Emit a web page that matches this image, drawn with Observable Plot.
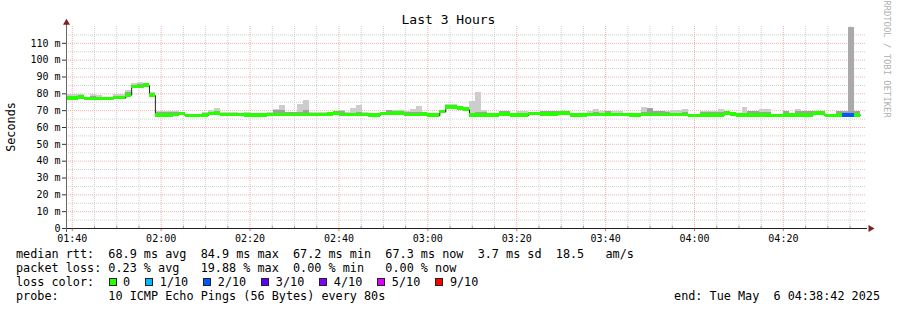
<!DOCTYPE html>
<html><head><meta charset="utf-8">
<script src="https://cdn.jsdelivr.net/npm/d3@7"></script>
<script src="https://cdn.jsdelivr.net/npm/@observablehq/plot@0.6"></script>
<style>
html,body{margin:0;padding:0;background:#fff;}
#wrap{position:relative;width:897px;height:310px;overflow:hidden;font-family:"DejaVu Sans Mono",monospace;color:#000;background:#fff;}
#chart{position:absolute;left:0;top:0;}
.t{position:absolute;white-space:pre;line-height:14px;font-size:11.8px;}
#title{left:0;width:897px;top:13px;text-align:center;font-size:13px;}
#ylab{left:11px;top:127px;transform:translate(-50%,-50%) rotate(-90deg);font-size:11.8px;}
#credit{left:887px;top:59px;transform:translate(-50%,-50%) rotate(90deg);font-size:8.9px;color:#b0b0b0;line-height:10px;}
#lossrow{position:absolute;left:108.5px;top:275px;height:14px;display:flex;align-items:center;font-size:11.8px;white-space:pre;}
.box{display:inline-block;width:8px;height:8px;box-sizing:border-box;border:1px solid #222;margin-right:6.6px;}
.lab{margin-right:15px;}
</style></head><body>
<div id="wrap">
  <div id="chart"></div>
  <div class="t" id="title">Last 3 Hours</div>
  <div class="t" id="ylab">Seconds</div>
  <div class="t" id="credit">RRDTOOL / TOBI OETIKER</div>
  <div class="t" id="row1" style="left:16px;top:247px;"></div>
  <div class="t" id="row2" style="left:16px;top:261px;"></div>
  <div class="t" id="row3" style="left:16px;top:275px;"></div>
  <div id="lossrow"></div>
  <div class="t" id="row4" style="left:16px;top:289px;"></div>
  <div class="t" id="row4r" style="right:17px;top:289px;"></div>
</div>
<script>
// ---- data (80 s steps starting 01:38:42 UTC, 6 May 2025) ----
const startTime = "2025-05-06T01:38:42Z";
const endTime = "2025-05-06T04:38:42Z";
const stepSeconds = 80;

// median RTT per step (ms)
const median = [
  77.3,77.3,77.8,77.0,77.0,77.0,77.0,77.0,77.5,77.5,
  79.2,84.0,84.0,84.9,79.0,67.3,67.3,67.3,67.5,68.0,
  66.9,66.9,66.9,67.3,68.0,68.2,67.5,67.5,67.5,67.5,
  67.3,67.3,67.3,67.3,67.5,67.5,67.5,67.5,67.5,67.5,
  67.5,67.5,67.5,67.5,67.8,68.3,67.5,67.5,67.5,67.5,
  67.5,67.3,67.3,68.0,68.0,68.3,68.3,67.5,67.5,67.5,
  67.8,67.0,67.0,69.2,72.0,72.0,71.3,70.5,67.3,67.3,
  67.3,67.2,67.2,67.8,67.8,67.0,67.2,67.2,68.0,68.0,
  67.8,67.8,67.8,68.5,68.3,67.3,67.3,67.3,67.5,67.5,
  67.5,67.8,67.5,67.5,67.5,67.3,67.3,67.5,67.5,67.5,
  67.5,67.5,67.5,67.5,67.5,66.8,66.8,67.2,67.2,67.2,
  67.2,68.5,67.8,67.2,67.2,67.2,67.2,67.2,67.2,66.8,
  66.8,67.3,67.0,67.3,67.3,67.3,68.3,68.3,66.8,66.8,
  67.3,67.3,67.3,67.3,null
];
// upper edge of the dense (dark) smoke per step (ms)
const smokeInner = [
  78.5,78.5,78.8,77.5,78.5,78.0,77.3,77.3,78.5,78.5,
  80.5,85.0,85.3,85.5,79.8,68.8,68.8,68.8,68.8,68.8,
  67.2,67.2,67.2,68.5,69.2,69.0,68.5,68.5,68.5,68.0,
  68.5,67.6,67.6,67.6,68.3,70.2,70.0,69.0,68.8,69.0,
  70.0,68.5,68.5,68.5,68.0,68.5,69.6,68.5,68.5,69.0,
  68.5,67.5,67.5,68.5,70.0,69.8,69.8,69.0,69.0,69.0,
  68.5,67.3,67.3,69.5,73.2,73.0,72.0,71.0,68.5,69.0,
  69.0,67.4,67.4,69.5,69.3,67.3,68.5,68.5,68.3,68.3,
  69.3,69.3,69.3,68.8,68.5,67.5,67.5,67.5,68.5,69.0,
  68.5,69.3,68.5,68.5,68.0,67.6,67.6,69.0,71.0,69.6,
  69.6,68.8,68.5,68.5,68.8,67.0,67.0,69.0,69.0,69.0,
  69.0,68.8,68.0,67.5,68.5,69.3,69.3,68.8,68.8,67.0,
  67.0,69.3,67.3,69.5,69.3,69.3,68.5,68.5,67.8,67.8,
  69.3,69.0,69.3,69.3,null
];
// max ping per step (ms)
const smokeMax = [
  79.6,79.6,79.6,78.0,79.6,79.2,77.5,77.5,79.6,79.6,
  82.0,86.0,86.5,86.0,80.6,69.5,69.5,69.5,69.5,69.0,
  67.5,67.5,67.5,69.0,70.2,71.5,69.0,69.0,69.0,68.5,
  69.0,67.8,67.8,67.8,68.8,70.4,72.8,69.2,69.0,73.4,
  76.2,69.2,68.8,68.8,68.3,68.8,70.0,68.8,71.0,72.8,
  69.0,67.8,67.8,68.8,70.2,70.0,70.0,69.3,70.4,72.2,
  68.8,67.5,67.5,69.8,73.8,73.5,72.3,71.2,75.2,80.5,
  70.0,67.6,67.6,69.7,69.5,67.5,69.5,69.5,68.5,68.5,
  69.5,69.5,69.5,69.0,68.8,67.8,67.8,67.8,69.5,70.4,
  69.5,69.5,69.5,69.5,68.5,67.8,67.8,72.0,71.3,69.8,
  69.8,69.5,70.0,70.0,70.8,67.3,67.3,69.3,69.3,69.3,
  70.6,69.0,68.3,67.8,71.6,69.5,69.5,70.8,70.8,67.3,
  67.3,69.6,67.5,70.8,69.5,69.5,68.8,68.8,68.0,68.0,
  69.5,69.3,119.2,69.6,null
];
// lost pings (out of 10) per step
const lostPings = [
  0,0,0,0,0,0,0,0,0,0, 0,0,0,0,0,0,0,0,0,0,
  0,0,0,0,0,0,0,0,0,0, 0,0,0,0,0,0,0,0,0,0,
  0,0,0,0,0,0,0,0,0,0, 0,0,0,0,0,0,0,0,0,0,
  0,0,0,0,0,0,0,0,0,0, 0,0,0,0,0,0,0,0,0,0,
  0,0,0,0,0,0,0,0,0,0, 0,0,0,0,0,0,0,0,0,0,
  0,0,0,0,0,0,0,0,0,0, 0,0,0,0,0,0,0,0,0,0,
  0,0,0,0,0,0,0,0,0,0, 0,2,2,0,0
];

const lossLevels = [0, 1, 2, 3, 4, 5, 9];
const lossLabels = ["0", "1/10", "2/10", "3/10", "4/10", "5/10", "9/10"];
const lossColors = ["#26ff00", "#00b8ff", "#0059ff", "#5e00ff", "#7e00ff", "#dd00ff", "#ff0000"];

const yTicks = [0, 10, 20, 30, 40, 50, 60, 70, 80, 90, 100, 110];
const yMinor = [5, 15, 25, 35, 45, 55, 65, 75, 85, 95, 105, 115];
const xTickLabels = ["01:40", "02:00", "02:20", "02:40", "03:00", "03:20", "03:40", "04:00", "04:20"];

const legendRtt = "median rtt:  68.9 ms avg  84.9 ms max  67.2 ms min  67.3 ms now  3.7 ms sd  18.5   am/s";
const legendLoss = "packet loss: 0.23 % avg   19.88 % max  0.00 % min   0.00 % now";
const legendColorLabel = "loss color:";
const legendProbe = "probe:       10 ICMP Echo Pings (56 Bytes) every 80s";
const legendEnd = "end: Tue May  6 04:38:42 2025";

// ---- build ----
const t0 = new Date(startTime);
const t1 = new Date(endTime);
const stepMs = stepSeconds * 1000;
const lossColor = n => { let c = lossColors[0]; lossLevels.forEach((l, i) => { if (n >= l) c = lossColors[i]; }); return c; };

const steps = median.map((m, i) => ({
  t: new Date(+t0 + i * stepMs), t2: new Date(+t0 + (i + 1) * stepMs),
  med: m, mid: smokeInner[i], hi: smokeMax[i], loss: lostPings[i]
})).filter(d => d.med != null);
const medPts = steps.map(d => ({t: d.t, v: d.med}));
const last = steps[steps.length - 1];
medPts.push({t: last.t2, v: last.med});

const xTicks = xTickLabels.map(s => new Date(`2025-05-06T${s}:00Z`));
const allFive = d3.utcMinute.every(5).range(t0, t1);
const xMajor = allFive.filter(d => d.getUTCMinutes() % 20 === 0);
const xMinor = allFive.filter(d => d.getUTCMinutes() % 20 !== 0);

const pxSec = 10800 / 800; // seconds per pixel
const axisStart = new Date(+t0 - 4 * pxSec * 1000);
const axisEnd = new Date(+t1 + 1 * pxSec * 1000);
const arrowX = new Date(+t1 + 4 * pxSec * 1000);

const chart = Plot.plot({
  width: 897, height: 245,
  marginLeft: 66, marginRight: 31, marginTop: 26, marginBottom: 17,
  x: {type: "utc", domain: [t0, t1], axis: null},
  y: {domain: [0, 120], axis: null},
  style: {fontFamily: "DejaVu Sans Mono", fontSize: "10px", background: "transparent", color: "#000", overflow: "visible"},
  marks: [
    Plot.ruleX(xMinor, {stroke: "#cfcfcf", strokeDasharray: "1,1"}),
    Plot.ruleY(yMinor, {stroke: "#cfcfcf", strokeDasharray: "1,1"}),
    Plot.ruleX(xMajor, {stroke: "#f2b0b0", strokeDasharray: "1,1"}),
    Plot.ruleY(yTicks.filter(v => v > 0), {stroke: "#f2b0b0", strokeDasharray: "1,1"}),
    // smoke
    Plot.rect(steps, {x1: "t", x2: "t2", y1: d => d.med - 0.5, y2: "hi", fill: d => d.loss > 0 ? "#aaaaaa" : "#cdcdcd", shapeRendering: "crispEdges"}),
    Plot.rect(steps, {x1: "t", x2: "t2", y1: d => d.med - 0.5, y2: "mid", fill: "#a0a0a0", shapeRendering: "crispEdges"}),
    // median line
    Plot.line(medPts, {x: "t", y: "v", curve: "step-after", stroke: "#202020", strokeWidth: 1}),
    // loss-coloured median band
    Plot.rect(steps, {x1: "t", x2: "t2", y1: d => d.med - 1.1, y2: d => d.med + 1.1, fill: d => lossColor(d.loss), shapeRendering: "crispEdges"}),
    // ticks
    Plot.ruleX(xMinor, {y1: 0, y2: 1.3, stroke: "#999"}),
    Plot.ruleX(xMajor, {y1: 0, y2: -1.9, stroke: "#e07070"}),
    // axes lines
    Plot.ruleY([0], {x1: axisStart, x2: axisEnd, stroke: "#212121"}),
    Plot.ruleX([t0], {y1: -2.4, y2: 121.5, stroke: "#666"}),
    Plot.dot([{x: t0, y: 122.2}], {x: "x", y: "y", symbol: "triangle", r: 2.6, fill: "#802121", stroke: "none"}),
    Plot.dot([{x: arrowX, y: 0}], {x: "x", y: "y", symbol: "triangle", r: 2.6, rotate: 90, fill: "#802121", stroke: "none"}),
    Plot.axisX({ticks: xTicks, tickSize: 0, tickPadding: 6, tickFormat: d3.utcFormat("%H:%M"), label: null, fontSize: 10}),
    Plot.axisY({ticks: yTicks, tickSize: 4, tickPadding: 2, tickFormat: d => d === 0 ? "0" : `${d} m`, label: null, fontSize: 10, stroke: "#333"})
  ]
});
document.getElementById("chart").appendChild(chart);

document.getElementById("row1").textContent = legendRtt;
document.getElementById("row2").textContent = legendLoss;
document.getElementById("row3").textContent = legendColorLabel;
document.getElementById("row4").textContent = legendProbe;
document.getElementById("row4r").textContent = legendEnd;
const lr = document.getElementById("lossrow");
lossLabels.forEach((lab, i) => {
  const b = document.createElement("span"); b.className = "box"; b.style.background = lossColors[i]; lr.appendChild(b);
  const s = document.createElement("span"); s.className = "lab"; s.textContent = lab; lr.appendChild(s);
});
</script>
</body></html>
